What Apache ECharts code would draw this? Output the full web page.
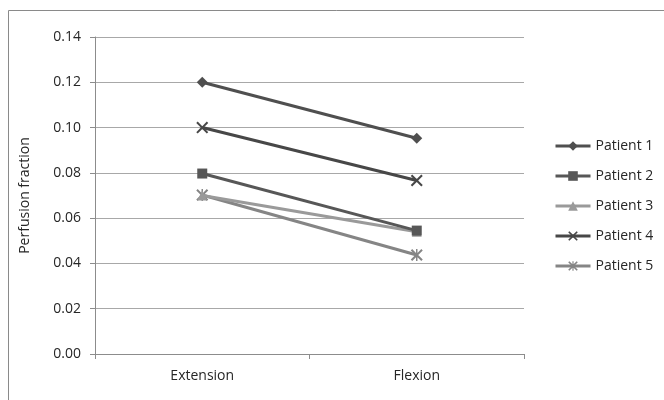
<!DOCTYPE html>
<html><head><meta charset="utf-8">
<script src="https://cdn.jsdelivr.net/npm/echarts@6/dist/echarts.min.js"></script>
<style>html,body{margin:0;padding:0;background:#fff}#c{width:664px;height:400px}</style>
</head><body><div id="c"></div>
<script>
const categories = ['Extension', 'Flexion'];
const seriesNames = ['Patient 1', 'Patient 2', 'Patient 3', 'Patient 4', 'Patient 5'];
const patient1 = [0.120, 0.0953];
const patient2 = [0.0797, 0.0545];
const patient3 = [0.0700, 0.0540];
const patient4 = [0.1000, 0.0766];
const patient5 = [0.0702, 0.0437];
const yTicks = [0, 0.02, 0.04, 0.06, 0.08, 0.10, 0.12, 0.14];

const X = 'path://M0,1.2 L1.2,0 L5,3.8 L8.8,0 L10,1.2 L6.2,5 L10,8.8 L8.8,10 L5,6.2 L1.2,10 L0,8.8 L3.8,5 Z';
const AST = 'path://M0,1.2 L1.2,0 L4.4,3.2 L4.4,0 L5.6,0 L5.6,3.2 L8.8,0 L10,1.2 L6.2,5 L10,8.8 L8.8,10 L5.6,6.8 L5.6,10 L4.4,10 L4.4,6.8 L1.2,10 L0,8.8 L3.8,5 Z';
const data = [patient1, patient2, patient3, patient4, patient5];
const colors = ['#4f4f4f', '#575757', '#9a9a9a', '#474747', '#858585'];
const symbols = ['diamond', 'rect', 'triangle', X, AST];
const sizes = [11, 10, 10, 12, 12];
const font = '"Open Sans", Lato, sans-serif';

const chart = echarts.init(document.getElementById('c'));
chart.setOption({
  animation: false,
  backgroundColor: '#fff',
  graphic: [{type: 'rect', shape: {x: 8.5, y: 10.5, width: 700, height: 500}, style: {fill: null, stroke: '#8a8a8a', lineWidth: 1}, silent: true, z: -1}],
  grid: {left: 95, right: 140, top: 37, bottom: 46},
  legend: {
    orient: 'vertical', left: 549, top: 134, itemWidth: 35, itemHeight: 12, itemGap: 16,
    lineStyle: {width: 3},
    textStyle: {fontFamily: font, fontSize: 14, color: '#262626'},
    data: seriesNames
  },
  xAxis: {
    type: 'category', data: categories, boundaryGap: true,
    axisLine: {lineStyle: {color: '#8c8c8c', width: 1}},
    axisTick: {show: true, alignWithLabel: false, length: 5, lineStyle: {color: '#8c8c8c'}},
    axisLabel: {fontFamily: font, fontSize: 14, color: '#262626', margin: 15}
  },
  yAxis: {
    type: 'value', min: 0, max: 0.14, interval: 0.02,
    name: 'Perfusion fraction', nameLocation: 'middle', nameGap: 63, nameRotate: 90,
    nameTextStyle: {fontFamily: font, fontSize: 14, color: '#262626'},
    axisLine: {show: true, lineStyle: {color: '#8c8c8c'}},
    axisTick: {show: true, length: 5, lineStyle: {color: '#8c8c8c'}},
    axisLabel: {fontFamily: font, fontSize: 14, color: '#262626', margin: 14, formatter: v => v.toFixed(2)},
    splitLine: {lineStyle: {color: '#a8a8a8', width: 1}}
  },
  series: seriesNames.map((n, i) => ({
    name: n, type: 'line', data: data[i],
    symbol: symbols[i], symbolSize: sizes[i],
    lineStyle: {color: colors[i], width: 3},
    itemStyle: {color: colors[i]},
    z: 10 - i
  }))
});
</script></body></html>
